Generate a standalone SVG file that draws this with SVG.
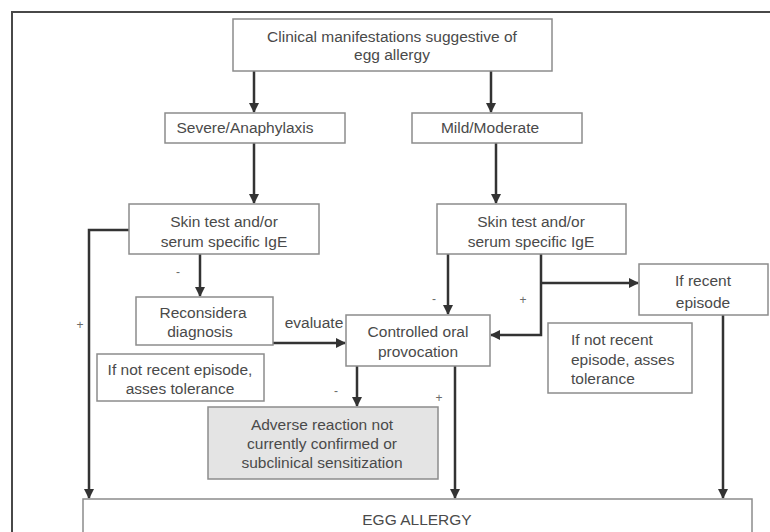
<svg xmlns="http://www.w3.org/2000/svg" width="770" height="532" viewBox="0 0 770 532">
  <style>
    .box { fill: #ffffff; stroke: #8c8c8c; stroke-width: 1.5; }
    .shaded { fill: #e4e4e4; stroke: #8c8c8c; stroke-width: 1.5; }
    .lbl { font-family: "Liberation Sans", Arial, sans-serif; font-size: 15.5px; fill: #4a4a4a; text-anchor: middle; }
    .left { text-anchor: start; }
    .sign { font-family: "Liberation Sans", Arial, sans-serif; font-size: 12px; fill: #6a6a6a; text-anchor: middle; }
    .wire { fill: none; stroke: #333333; stroke-width: 2.5; }
  </style>
  <defs>
    <marker id="head" viewBox="0 0 10 10" refX="9" refY="5" markerWidth="4" markerHeight="4" orient="auto" markerUnits="strokeWidth">
      <path d="M0,0 L10,5 L0,10 z" fill="#333333"/>
    </marker>
  </defs>

  <rect width="770" height="532" fill="#ffffff"/>
  <!-- outer frame -->
  <path d="M12,540 L12,12 L780,12" fill="none" stroke="#484848" stroke-width="2"/>

  <g id="connectors">
    <line class="wire" x1="254" y1="71" x2="254" y2="112" marker-end="url(#head)"/>
    <line class="wire" x1="491" y1="71" x2="491" y2="112" marker-end="url(#head)"/>
    <line class="wire" x1="254" y1="143" x2="254" y2="203" marker-end="url(#head)"/>
    <line class="wire" x1="496" y1="143" x2="496" y2="203" marker-end="url(#head)"/>
    <polyline class="wire" points="129,230 89,230 89,498" marker-end="url(#head)"/>
    <line class="wire" x1="200" y1="254" x2="200" y2="296" marker-end="url(#head)"/>
    <line class="wire" x1="273" y1="343" x2="345" y2="343" marker-end="url(#head)"/>
    <line class="wire" x1="448" y1="254" x2="448" y2="314" marker-end="url(#head)"/>
    <polyline class="wire" points="541,254 541,335 491,335" marker-end="url(#head)"/>
    <line class="wire" x1="541" y1="283" x2="638" y2="283" marker-end="url(#head)"/>
    <line class="wire" x1="723" y1="315" x2="723" y2="498" marker-end="url(#head)"/>
    <line class="wire" x1="357" y1="366" x2="357" y2="406" marker-end="url(#head)"/>
    <line class="wire" x1="455" y1="366" x2="455" y2="498" marker-end="url(#head)"/>
    <text class="sign" x="80" y="329">+</text>
    <text class="sign" x="178" y="276">-</text>
    <text class="lbl" x="314" y="328">evaluate</text>
    <text class="sign" x="434" y="303">-</text>
    <text class="sign" x="523" y="304">+</text>
    <text class="sign" x="336" y="395">-</text>
    <text class="sign" x="439" y="402">+</text>
  </g>

  <g id="clinical">
    <rect class="box" x="233" y="19" width="319" height="52"/>
    <text class="lbl" x="392" y="42">Clinical manifestations suggestive of</text>
    <text class="lbl" x="392" y="60">egg allergy</text>
  </g>
  <g id="severe">
    <rect class="box" x="165" y="113" width="180" height="30"/>
    <text class="lbl" x="245" y="133">Severe/Anaphylaxis</text>
  </g>
  <g id="mild">
    <rect class="box" x="412" y="113" width="170" height="30"/>
    <text class="lbl" x="490" y="133">Mild/Moderate</text>
  </g>
  <g id="skin-left">
    <rect class="box" x="129" y="204" width="190" height="50"/>
    <text class="lbl" x="224" y="227">Skin test and/or</text>
    <text class="lbl" x="224" y="247">serum specific IgE</text>
  </g>
  <g id="skin-right">
    <rect class="box" x="437" y="204" width="189" height="50"/>
    <text class="lbl" x="531" y="227">Skin test and/or</text>
    <text class="lbl" x="531" y="247">serum specific IgE</text>
  </g>
  <g id="reconsider">
    <rect class="box" x="136" y="297" width="137" height="48"/>
    <text class="lbl" x="203" y="318">Reconsidera</text>
    <text class="lbl" x="200" y="337">diagnosis</text>
  </g>
  <g id="recent">
    <rect class="box" x="639" y="264" width="129" height="51"/>
    <text class="lbl" x="703" y="286">If recent</text>
    <text class="lbl" x="703" y="308">episode</text>
  </g>
  <g id="oral-provocation">
    <rect class="box" x="346" y="315" width="144" height="51"/>
    <text class="lbl" x="418" y="337">Controlled oral</text>
    <text class="lbl" x="418" y="357">provocation</text>
  </g>
  <g id="tolerance-left">
    <rect class="box" x="97" y="354" width="167" height="47"/>
    <text class="lbl" x="180" y="375">If not recent episode,</text>
    <text class="lbl" x="180" y="394">asses tolerance</text>
  </g>
  <g id="tolerance-right">
    <rect class="box" x="548" y="323" width="144" height="70"/>
    <text class="lbl left" x="571" y="345">If not recent</text>
    <text class="lbl left" x="571" y="365">episode, asses</text>
    <text class="lbl left" x="571" y="384">tolerance</text>
  </g>
  <g id="not-confirmed">
    <rect class="shaded" x="208" y="407" width="230" height="72"/>
    <text class="lbl" x="322" y="430">Adverse reaction not</text>
    <text class="lbl" x="322" y="449">currently confirmed or</text>
    <text class="lbl" x="322" y="468">subclinical sensitization</text>
  </g>
  <g id="egg-allergy">
    <rect class="box" x="83" y="499" width="669" height="40"/>
    <text class="lbl" x="417" y="525">EGG ALLERGY</text>
  </g>
</svg>
